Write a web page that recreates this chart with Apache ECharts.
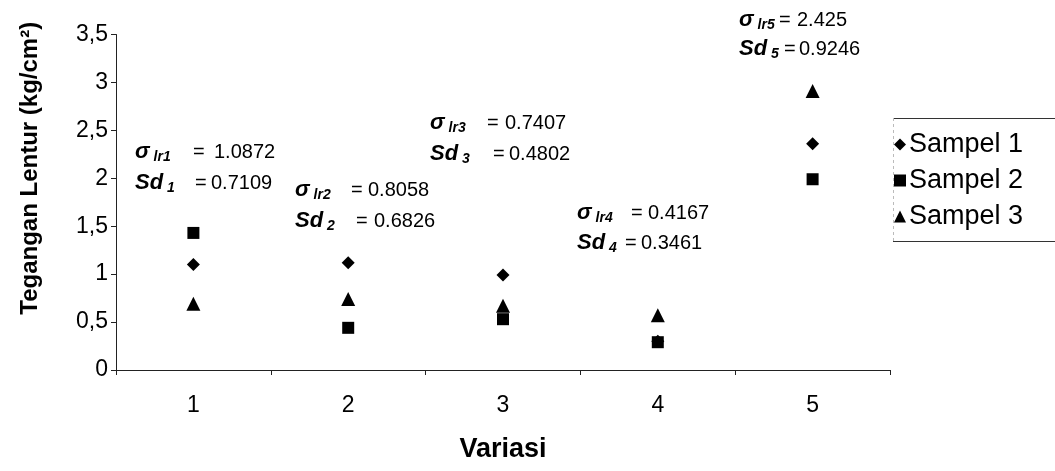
<!DOCTYPE html>
<html>
<head>
<meta charset="utf-8">
<script src="https://cdn.jsdelivr.net/npm/echarts@6/dist/echarts.min.js"></script>
<style>
  html, body { margin: 0; padding: 0; background: #fff; }
  #chart { width: 1055px; height: 471px; }
</style>
</head>
<body>
<div id="chart"></div>
<script>
// Flexural stress per variation, three samples each
const categories = ['1', '2', '3', '4', '5'];
const sampel1 = [1.10, 1.12, 0.99, 0.30, 2.36];
const sampel2 = [1.43, 0.44, 0.53, 0.29, 1.99];
const sampel3 = [0.69, 0.74, 0.67, 0.57, 2.91];
const seriesNames = ['Sampel 1', 'Sampel 2', 'Sampel 3'];
const yTicks = [0, 0.5, 1, 1.5, 2, 2.5, 3, 3.5];

// Mean stress and standard deviation written above each group
const meanLabels = ['1.0872', '0.8058', '0.7407', '0.4167', '2.425'];
const sdLabels = ['0.7109', '0.6826', '0.4802', '0.3461', '0.9246'];
// [left x, mean-line centre y, sd-line centre y, mean "=" x, mean value x, sd "=" x, sd value x]
const annotationLayout = [
  [135, 152, 183, 193, 214, 195, 211],
  [295, 190, 221, 351, 368, 356, 374],
  [430, 123, 154, 487, 505, 493, 509],
  [577, 213, 243, 631, 648, 625, 641],
  [739, 20, 49, 779, 797, 784, 799]
];

const FONT = 'Liberation Sans, Arial, sans-serif';
const chart = echarts.init(document.getElementById('chart'));

const rich = {
  sym: { fontFamily: FONT, fontWeight: 'bold', fontStyle: 'italic', fontSize: 22, color: '#000' },
  sub: { fontFamily: FONT, fontWeight: 'bold', fontStyle: 'italic', fontSize: 14, color: '#000', padding: [10, 0, 0, 4] }
};
const valStyle = { fontFamily: FONT, fontSize: 20, fill: '#000' };

function valText(x, yc, s) {
  return { type: 'text', left: x, top: yc - 10, style: Object.assign({ text: s }, valStyle) };
}

const annotations = [];
annotationLayout.forEach(function (L, i) {
  const n = i + 1;
  annotations.push(
    { type: 'text', left: L[0], top: L[1] - 11, style: { text: '{sym|σ}{sub|lr' + n + '}', rich: rich } },
    valText(L[3], L[1], '='),
    valText(L[4], L[1], meanLabels[i]),
    { type: 'text', left: L[0], top: L[2] - 11, style: { text: '{sym|Sd}{sub|' + n + '}', rich: rich } },
    valText(L[5], L[2], '='),
    valText(L[6], L[2], sdLabels[i])
  );
});

// Legend frame: solid top and bottom rules, faint left edge
const legendFrame = [
  { type: 'line', shape: { x1: 893, y1: 118.5, x2: 1055, y2: 118.5 }, style: { stroke: '#333', lineWidth: 1 } },
  { type: 'line', shape: { x1: 893, y1: 241.5, x2: 1055, y2: 241.5 }, style: { stroke: '#333', lineWidth: 1 } },
  { type: 'line', shape: { x1: 893.5, y1: 118, x2: 893.5, y2: 242 }, style: { stroke: '#bbb', lineWidth: 1, lineDash: [3, 3] } }
];

const markerShapes = ['diamond', 'rect', 'triangle'];
const markerSizes = [13, 12, 14];
const seriesData = [sampel1, sampel2, sampel3];

chart.setOption({
  animation: false,
  backgroundColor: '#fff',
  grid: { left: 116, right: 165, top: 34.5, bottom: 101, containLabel: false, outerBoundsMode: 'none' },
  legend: {
    orient: 'vertical',
    left: 894, top: 131,
    padding: 0,
    itemGap: 9,
    itemWidth: 12, itemHeight: 12,
    data: seriesNames.map(function (n, i) { return { name: n, icon: markerShapes[i] }; }),
    textStyle: { fontFamily: FONT, fontSize: 27, color: '#000', padding: [0, 0, 0, -2] }
  },
  xAxis: {
    type: 'category',
    data: categories,
    boundaryGap: true,
    name: 'Variasi',
    nameLocation: 'middle',
    nameGap: 66,
    nameTextStyle: { fontFamily: FONT, fontWeight: 'bold', fontSize: 27, color: '#000' },
    axisLine: { lineStyle: { color: '#222', width: 1 } },
    axisTick: { show: true, alignWithLabel: false, length: 5, lineStyle: { color: '#222' } },
    axisLabel: { fontFamily: FONT, fontSize: 23, color: '#000', margin: 24 },
    splitLine: { show: false }
  },
  yAxis: {
    type: 'value',
    min: 0, max: 3.5, interval: 0.5,
    name: 'Tegangan Lentur (kg/cm²)',
    nameLocation: 'middle',
    nameGap: 74,
    nameRotate: 90,
    nameTextStyle: { fontFamily: FONT, fontWeight: 'bold', fontSize: 24, color: '#000', padding: [0, 0, 0, 68] },
    axisLine: { show: true, lineStyle: { color: '#222', width: 1 } },
    axisTick: { show: true, length: 5, lineStyle: { color: '#222' } },
    axisLabel: {
      fontFamily: FONT, fontSize: 23, color: '#000', margin: 8,
      formatter: function (v) {
        const t = yTicks.find(function (k) { return Math.abs(k - v) < 1e-9; });
        return String(t === undefined ? v : t).replace('.', ',');
      }
    },
    splitLine: { show: false }
  },
  series: seriesNames.map(function (n, i) {
    return {
      name: n,
      type: 'scatter',
      symbol: markerShapes[i],
      symbolSize: markerSizes[i],
      itemStyle: { color: '#000', opacity: 1 },
      data: seriesData[i],
      z: 3 + i
    };
  }),
  graphic: annotations.concat(legendFrame)
});
</script>
</body>
</html>
